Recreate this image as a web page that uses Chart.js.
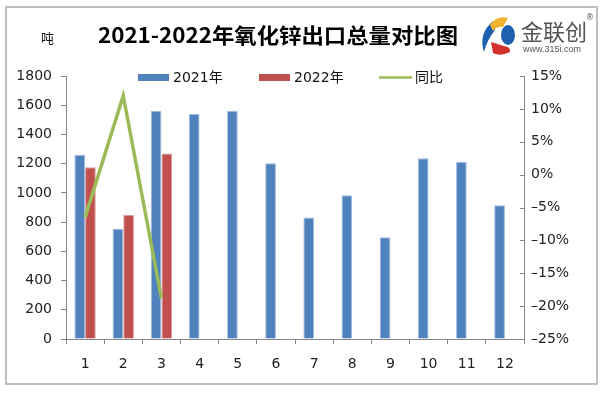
<!DOCTYPE html>
<html>
<head>
<meta charset="utf-8">
<script src="https://cdn.jsdelivr.net/npm/chart.js@4/dist/chart.umd.min.js"></script>
<style>
  html, body { margin: 0; padding: 0; background: #fff; }
  #c { display: block; }
</style>
</head>
<body>
<canvas id="c" width="608" height="394"></canvas>
<script>
// ---- data ----
const months = ['1','2','3','4','5','6','7','8','9','10','11','12'];
const export2021 = [1260, 754, 1563, 1540, 1563, 1203, 831, 984, 697, 1237, 1212, 916];
const export2022 = [1176, 848, 1269];
const yoyPct = [-6.5, 12.0, -18.8];
const seriesNames = ['2021年', '2022年', '同比'];
const titleText = '2021-2022年氧化锌出口总量对比图';
const unitText = '吨';

const BLUE = '#4F81BD', RED = '#C0504D', GREEN = '#9BBB59';
const TICK_FONT = { family: '"DejaVu Sans", "Noto Sans CJK SC", sans-serif', size: 14 };
const AXIS_COLOR = '#868686';

const decor = {
  id: 'decor',
  afterDraw(chart) {
    const ctx = chart.ctx;
    ctx.save();
    // outer border
    ctx.strokeStyle = '#BFBFBF';
    ctx.lineWidth = 2;
    ctx.strokeRect(6, 7, 591, 377);

    // title (stretched horizontally to match)
    ctx.fillStyle = '#000';
    ctx.font = 'bold 21px "Noto Sans CJK SC", sans-serif';
    ctx.textBaseline = 'middle';
    ctx.textAlign = 'left';
    const w = ctx.measureText(titleText).width;
    ctx.save();
    ctx.translate(98, 35);
    ctx.scale(360 / w, 1);
    ctx.fillText(titleText, 0, 0);
    ctx.restore();

    // unit
    ctx.font = '13px "Noto Sans CJK SC", sans-serif';
    ctx.fillStyle = '#111';
    ctx.fillText(unitText, 41, 38);

    // logo
    ctx.save();
    // blue left crescent
    ctx.fillStyle = '#1F5FAF';
    ctx.beginPath();
    ctx.moveTo(493, 21);
    ctx.quadraticCurveTo(478, 34, 484, 52);
    ctx.quadraticCurveTo(487, 40, 495, 30);
    ctx.closePath();
    ctx.fill();
    // yellow top
    ctx.fillStyle = '#F2B22E';
    ctx.beginPath();
    ctx.moveTo(490, 25);
    ctx.quadraticCurveTo(497, 15, 508, 18);
    ctx.lineTo(503, 27);
    ctx.quadraticCurveTo(497, 26, 493, 31);
    ctx.closePath();
    ctx.fill();
    // blue right circle
    ctx.fillStyle = '#1F5FAF';
    ctx.beginPath();
    ctx.ellipse(508, 35, 7, 10, 0, 0, Math.PI * 2);
    ctx.fill();
    // red bottom
    ctx.fillStyle = '#D2322D';
    ctx.beginPath();
    ctx.moveTo(491, 42);
    ctx.lineTo(504, 46);
    ctx.quadraticCurveTo(511, 47, 510, 52);
    ctx.quadraticCurveTo(500, 57, 493, 53);
    ctx.closePath();
    ctx.fill();
    ctx.restore();

    ctx.fillStyle = '#555';
    ctx.font = '22px "Noto Sans CJK SC", sans-serif';
    ctx.textBaseline = 'middle';
    ctx.fillText('金联创', 521, 32);
    ctx.font = '8px "DejaVu Sans", sans-serif';
    ctx.fillText('®', 586, 18);
    ctx.font = '9px "Liberation Sans", sans-serif';
    ctx.fillText('www.315i.com', 523, 50);

    // legend
    const lf = '14px "DejaVu Sans", "Noto Sans CJK SC", sans-serif';
    ctx.font = lf;
    ctx.textBaseline = 'middle';
    ctx.fillStyle = BLUE;
    ctx.fillRect(138, 74, 31, 7);
    ctx.fillStyle = RED;
    ctx.fillRect(259, 74, 31, 7);
    ctx.strokeStyle = GREEN;
    ctx.lineWidth = 2.5;
    ctx.beginPath();
    ctx.moveTo(379, 77.5);
    ctx.lineTo(412, 77.5);
    ctx.stroke();
    ctx.fillStyle = '#111';
    ctx.fillText(seriesNames[0], 173, 78);
    ctx.fillText(seriesNames[1], 294, 78);
    ctx.fillText(seriesNames[2], 415, 78);

    // inward ticks on the right axis
    const y1 = chart.scales.y1;
    const xr = chart.chartArea.right;
    ctx.strokeStyle = AXIS_COLOR;
    ctx.lineWidth = 1;
    y1.ticks.forEach((t, i) => {
      const yy = Math.round(y1.getPixelForTick(i)) + 0.5;
      ctx.beginPath();
      ctx.moveTo(xr - 4, yy);
      ctx.lineTo(xr, yy);
      ctx.stroke();
    });
    ctx.restore();
  }
};

new Chart(document.getElementById('c'), {
  type: 'bar',
  data: {
    labels: months,
    datasets: [
      {
        label: seriesNames[2],
        type: 'line',
        data: yoyPct,
        yAxisID: 'y1',
        borderColor: GREEN,
        backgroundColor: GREEN,
        borderWidth: 3.5,
        pointRadius: 0,
        tension: 0,
        order: 0
      },
      {
        label: seriesNames[0],
        data: export2021,
        yAxisID: 'y',
        backgroundColor: BLUE,
        borderColor: '#9DB9DE',
        borderWidth: { top: 1, left: 1, right: 1, bottom: 0 },
        order: 1
      },
      {
        label: seriesNames[1],
        data: export2022,
        yAxisID: 'y',
        backgroundColor: RED,
        borderColor: '#DA9896',
        borderWidth: { top: 1, left: 1, right: 1, bottom: 0 },
        order: 1
      }
    ]
  },
  options: {
    responsive: false,
    devicePixelRatio: 1,
    animation: false,
    layout: { padding: { top: 76, left: 0, right: 0, bottom: 0 } },
    datasets: { bar: { categoryPercentage: 0.56, barPercentage: 1.0 } },
    plugins: {
      legend: { display: false },
      title: { display: false },
      tooltip: { enabled: false }
    },
    scales: {
      x: {
        offset: true,
        grid: { display: true, drawOnChartArea: false, offset: true, tickLength: 5, color: AXIS_COLOR },
        border: { display: true, color: AXIS_COLOR },
        ticks: { font: TICK_FONT, color: '#222', padding: 12, maxRotation: 0 },
        afterFit(s) { s.height = 55; }
      },
      y: {
        position: 'left',
        min: 0, max: 1800,
        ticks: { stepSize: 200, font: TICK_FONT, color: '#222', padding: 9, callback: v => String(v) },
        grid: { drawOnChartArea: false, tickLength: 5, color: AXIS_COLOR },
        border: { display: true, color: AXIS_COLOR },
        afterFit(s) { s.width = 66; }
      },
      y1: {
        position: 'right',
        min: -25, max: 15,
        ticks: {
          stepSize: 5, font: TICK_FONT, color: '#222', padding: 7,
          callback: v => (v < 0 ? '–' : '') + Math.abs(v) + '%'
        },
        grid: { drawOnChartArea: false, drawTicks: false, color: AXIS_COLOR },
        border: { display: true, color: AXIS_COLOR },
        afterFit(s) { s.width = 84; }
      }
    }
  },
  plugins: [decor]
});
</script>
</body>
</html>
